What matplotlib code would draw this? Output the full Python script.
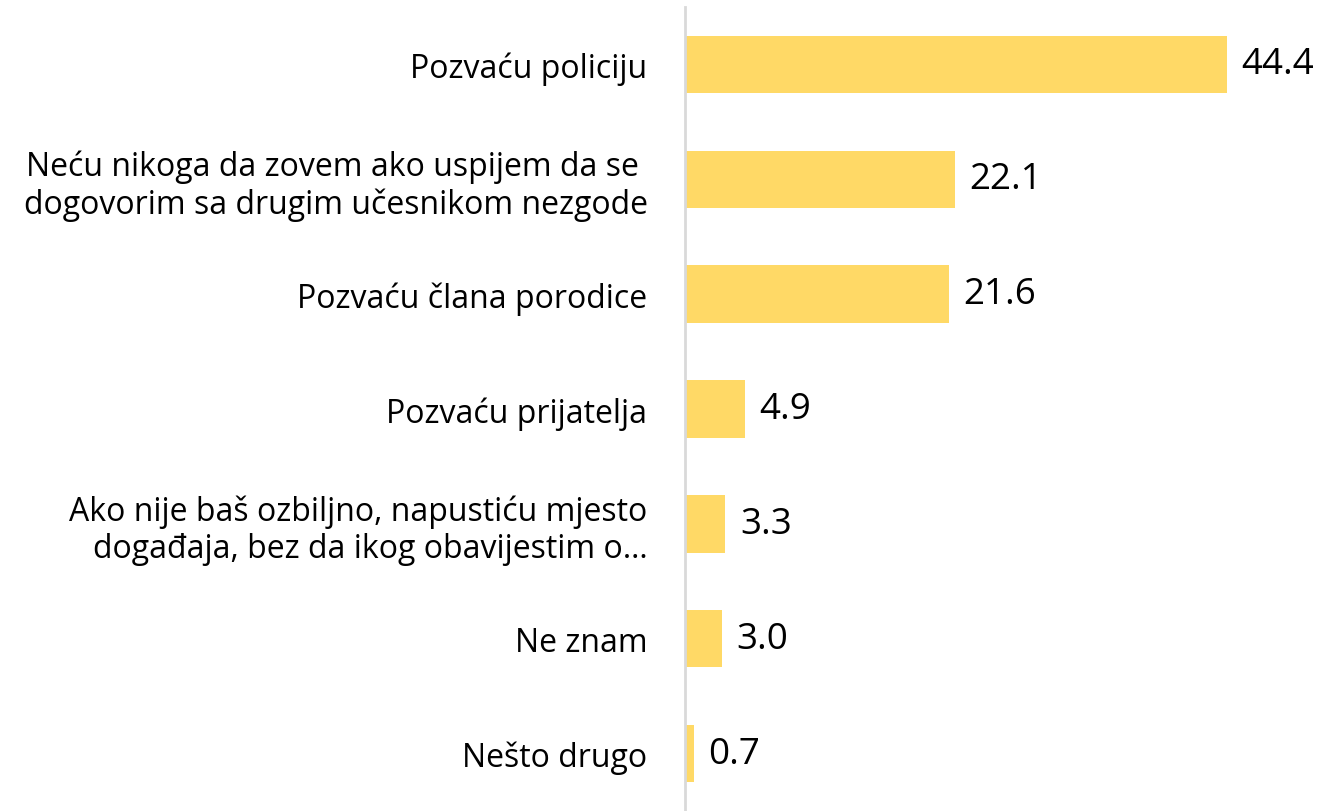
import matplotlib.pyplot as plt

categories = [
    'Pozvaću policiju',
    'Neću nikoga da zovem ako uspijem da se \ndogovorim sa drugim učesnikom nezgode',
    'Pozvaću člana porodice',
    'Pozvaću prijatelja',
    'Ako nije baš ozbiljno, napustiću mjesto\ndogađaja, bez da ikog obavijestim o…',
    'Ne znam',
    'Nešto drugo',
]
values = [44.4, 22.1, 21.6, 4.9, 3.3, 3.0, 0.7]

plt.rcParams['font.family'] = ['Open Sans', 'DejaVu Sans']

fig = plt.figure(figsize=(13.25, 8.12), dpi=100)
ax = fig.add_axes([685 / 1325, 0, 1 - 685 / 1325, 1 - 8 / 812])

pos = range(len(categories))
ax.barh(pos, values, height=0.5, color='#FFD966')
ax.set_ylim(len(categories) - 0.5, -0.5)
ax.set_xlim(0, 640 / 12.2)

for i, v in enumerate(values):
    ax.text(v + 1.2, i, f'{v:.1f}', va='center', ha='left', fontsize=26.5)

ax.set_yticks(list(pos))
ax.set_yticklabels(categories, fontsize=23, linespacing=1.15)
ax.tick_params(axis='y', length=0, pad=27)
ax.set_xticks([])
for s in ['top', 'right', 'bottom']:
    ax.spines[s].set_visible(False)
ax.spines['left'].set_color('#D9D9D9')
ax.spines['left'].set_linewidth(2)

fig.savefig('out.png', dpi=100)
